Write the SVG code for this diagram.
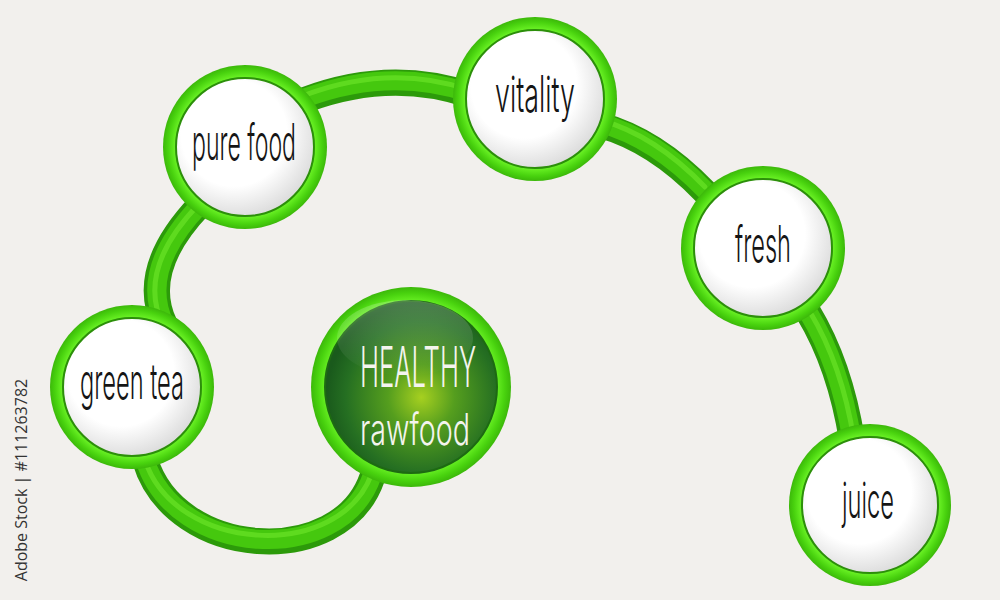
<svg xmlns="http://www.w3.org/2000/svg" width="1000" height="600" viewBox="0 0 1000 600">
<defs>
<radialGradient id="white" cx="0.42" cy="0.4" r="0.62">
<stop offset="0.62" stop-color="#ffffff"/>
<stop offset="1" stop-color="#dcdcdc"/>
</radialGradient>
<radialGradient id="ring" cx="0.5" cy="0.5" r="0.5">
<stop offset="0.8" stop-color="#2c960a"/>
<stop offset="0.86" stop-color="#66ee22"/>
<stop offset="0.94" stop-color="#48d20e"/>
<stop offset="1" stop-color="#3cb80a"/>
</radialGradient>
<radialGradient id="dark" cx="0.56" cy="0.56" r="0.55">
<stop offset="0" stop-color="#a6d020"/>
<stop offset="0.35" stop-color="#559e1e"/>
<stop offset="0.8" stop-color="#256f22"/>
<stop offset="1" stop-color="#1a5a1c"/>
</radialGradient>
<linearGradient id="gloss" x1="0" y1="0" x2="0" y2="1">
<stop offset="0" stop-color="#ffffff" stop-opacity="0.22"/>
<stop offset="1" stop-color="#ffffff" stop-opacity="0"/>
</linearGradient>
<style>
.tube{fill:none;stroke:#2c9a0a;stroke-width:26;stroke-linecap:round}
.tubemid{fill:none;stroke:#45c80e;stroke-width:19;stroke-linecap:round}
.tubehi{fill:none;stroke:#6fe82c;stroke-width:5;stroke-linecap:round;opacity:.6}
.lbl{font-family:Inter,"Open Sans","Liberation Sans",sans-serif;font-size:50px;font-weight:300;fill:#151515;text-anchor:middle}
.hl{font-family:Inter,"Open Sans","Liberation Sans",sans-serif;font-weight:300;fill:#f4f4ee;text-anchor:middle}
</style>
</defs>
<rect width="1000" height="600" fill="#f2f0ed"/>
<g id="connectors">
<path class="tube" d="M165,325 Q138,270 200,205"/>
<path class="tube" d="M305,100 Q390,68 470,95"/>
<path class="tube" d="M600,125 Q655,140 705,192"/>
<path class="tube" d="M808,312 Q840,365 852,440"/>
<path class="tube" stroke-width="34" d="M145,460 C175,560 340,570 372,478"/>
<path class="tubemid" d="M165,325 Q138,270 200,205"/>
<path class="tubemid" d="M305,98 Q390,66 470,93"/>
<path class="tubemid" d="M600,123 Q655,138 705,190"/>
<path class="tubemid" d="M808,312 Q840,365 852,440"/>
<path class="tubemid" stroke-width="25" d="M145,460 C175,558 340,568 372,476"/>
<path class="tubehi" d="M163,325 Q136,270 198,205"/>
<path class="tubehi" d="M305,95 Q390,63 470,90"/>
<path class="tubehi" d="M600,120 Q655,135 705,187"/>
<path class="tubehi" d="M810,312 Q842,365 854,440"/>
<path class="tubehi" d="M145,460 C175,553 340,563 372,473"/>
</g>
<g id="pure-food">
<circle cx="245" cy="147" r="82" fill="url(#ring)"/>
<circle cx="245" cy="147" r="69" fill="url(#white)" stroke="#2c8f0a" stroke-width="2"/>
<text class="lbl" x="244" y="160" textLength="104" lengthAdjust="spacingAndGlyphs">pure food</text>
</g>
<g id="vitality">
<circle cx="535" cy="99" r="82" fill="url(#ring)"/>
<circle cx="535" cy="99" r="69" fill="url(#white)" stroke="#2c8f0a" stroke-width="2"/>
<text class="lbl" x="535" y="112" textLength="80" lengthAdjust="spacingAndGlyphs">vitality</text>
</g>
<g id="fresh">
<circle cx="763" cy="248" r="82" fill="url(#ring)"/>
<circle cx="763" cy="248" r="69" fill="url(#white)" stroke="#2c8f0a" stroke-width="2"/>
<text class="lbl" x="763" y="262" textLength="56" lengthAdjust="spacingAndGlyphs">fresh</text>
</g>
<g id="juice">
<circle cx="870" cy="505" r="81" fill="url(#ring)"/>
<circle cx="870" cy="505" r="68" fill="url(#white)" stroke="#2c8f0a" stroke-width="2"/>
<text class="lbl" x="868" y="518" textLength="52" lengthAdjust="spacingAndGlyphs">juice</text>
</g>
<g id="green-tea">
<circle cx="132" cy="387" r="82" fill="url(#ring)"/>
<circle cx="132" cy="387" r="69" fill="url(#white)" stroke="#2c8f0a" stroke-width="2"/>
<text class="lbl" x="132" y="399" textLength="104" lengthAdjust="spacingAndGlyphs">green tea</text>
</g>
<g id="healthy-rawfood">
<circle cx="411" cy="387" r="100" fill="url(#ring)"/>
<circle cx="411" cy="387" r="86" fill="url(#dark)" stroke="#1d6a12" stroke-width="2"/>
<ellipse cx="405" cy="338" rx="68" ry="38" fill="url(#gloss)"/>
<text class="hl" x="418" y="387" font-size="56" textLength="116" lengthAdjust="spacingAndGlyphs">HEALTHY</text>
<text class="hl" x="415" y="445" font-size="44" textLength="110" lengthAdjust="spacingAndGlyphs">rawfood</text>
</g>
<text x="27" y="480" transform="rotate(-90 27 480)" font-family="Open Sans, sans-serif" font-size="16" fill="#333" text-anchor="middle">Adobe Stock | #111263782</text>
</svg>
